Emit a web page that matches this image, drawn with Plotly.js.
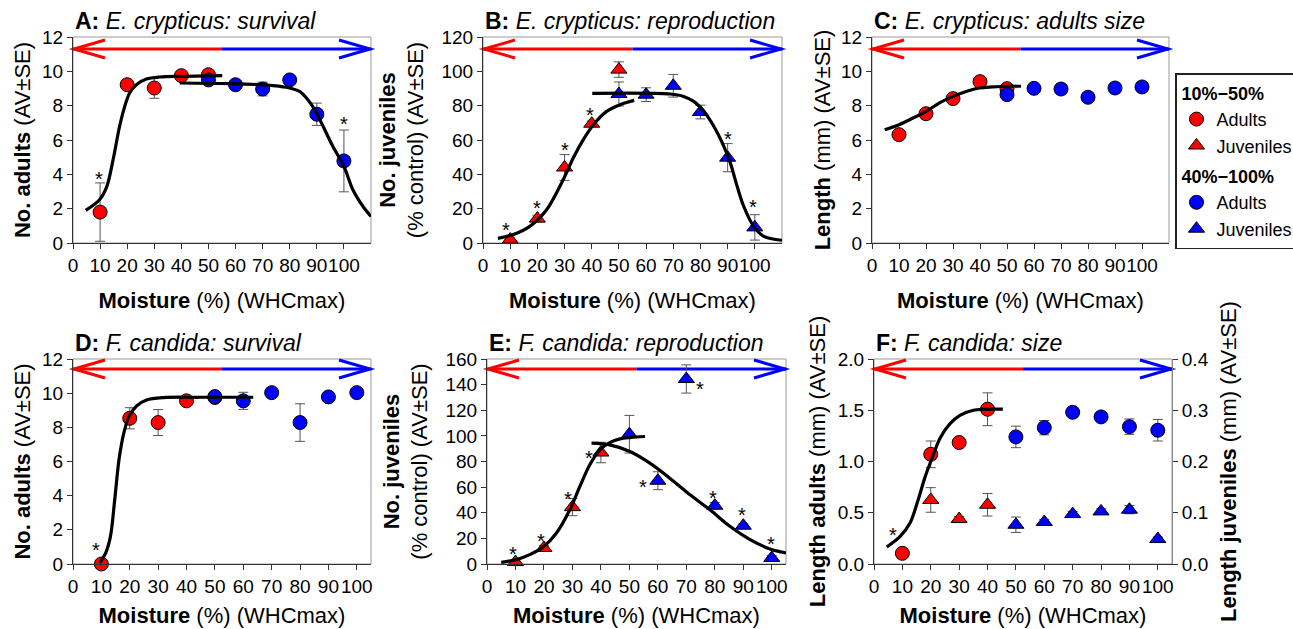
<!DOCTYPE html>
<html><head><meta charset="utf-8">
<script src="https://cdn.plot.ly/plotly-3.0.1.min.js"></script>
<style>html,body{margin:0;padding:0;background:#fff;}#chart{width:1293px;height:629px;}</style>
</head><body><div id="chart"></div>
<script>
// ---------- shared ----------
const xTickVals = [0,10,20,30,40,50,60,70,80,90,100];
const xTickText = ['0','10','20','30','40','50','60','70','80','90','100'];
const panelTitles = [
  '<b>A:</b> <i>E. crypticus: survival</i>',
  '<b>B:</b> <i>E. crypticus: reproduction</i>',
  '<b>C:</b> <i>E. crypticus: adults size</i>',
  '<b>D:</b> <i>F. candida: survival</i>',
  '<b>E:</b> <i>F. candida: reproduction</i>',
  '<b>F:</b> <i>F. candida: size</i>'
];
const xTitle = '<b>Moisture</b> (%) (WHCmax)';
const yTitles = [
  '<b>No. adults</b> (AV±SE)',
  '<b>No. juveniles</b><br>(% control) (AV±SE)',
  '<b>Length</b> (mm) (AV±SE)',
  '<b>No. adults</b> (AV±SE)',
  '<b>No. juveniles</b><br>(% control) (AV±SE)',
  '<b>Length adults</b> (mm) (AV±SE)',
  '<b>Length juveniles</b> (mm) (AV±SE)'
];
const legendGroupLow = '10%−50%';
const legendGroupHigh = '40%−100%';

// ---------- A: E. crypticus survival ----------
const aRedX = [10,20,30,40,50];
const aRedY = [1.8,9.22,9.03,9.75,9.8];
const aRedSE = [1.7,0.2,0.6,0.2,0.2];
const aBlueX = [50,60,70,80,90,100];
const aBlueY = [9.5,9.22,8.97,9.5,7.5,4.78];
const aBlueSE = [0.2,0.2,0.4,0.2,0.65,1.8];
const aRedFitX = [4.7,9.8,12.5,14.8,17.2,19.1,20.9,23.4,27.1,32,40.6,55.1];
const aRedFitY = [1.9,2.52,3.3,4.85,6.8,7.96,8.74,9.22,9.55,9.67,9.71,9.75];
const aBlueFitX = [39.4,59,71.3,78.7,83.6,86.7,89.2,92.3,95.9,100,103.3,107,110];
const aBlueFitY = [9.32,9.28,9.2,9.07,8.83,8.35,7.77,6.8,5.63,4.47,3.1,2.14,1.55];
const aStarX = [9.5,100];
const aStarY = [3.98,7.18];

// ---------- B: E. crypticus reproduction ----------
const bRedX = [10,20,30,40,50];
const bRedY = [2,14.2,44,69.5,101];
const bRedSE = [2.5,2,7.5,1.5,4.5];
const bBlueX = [50,60,70,80,90,100];
const bBlueY = [86.8,86.4,91.6,76.3,49.7,9.1];
const bBlueSE = [7,4,6.6,4,8.2,7.4];
const bRedFitX = [5.5,11.1,17.2,23.4,29.5,33.2,36.9,40.6,45.5,50.4,55.6];
const bRedFitY = [2.7,4.9,9.7,19.4,36.9,49.5,60.2,68.9,76.7,80.6,83.1];
const bBlueFitX = [40.2,68.9,73.8,77.5,81.2,84.9,88.6,91,93.5,95.9,99.6,103.3,110];
const bBlueFitY = [87.2,86.8,85.4,82.5,76.7,68,56.3,46.6,33,21.4,9.7,3.9,1.6];
const bStarX = [8.4,19.7,30,39.4,90.2,99.4];
const bStarY = [9.7,22.9,56.3,76.7,63.1,23.3];

// ---------- C: E. crypticus adults size ----------
const cRedX = [10,20,30,40,50];
const cRedY = [6.31,7.53,8.41,9.4,8.99];
const cRedSE = [0.15,0.15,0.15,0.15,0.15];
const cBlueX = [50,60,70,80,90,100];
const cBlueY = [8.64,9.01,8.97,8.49,9.03,9.09];
const cBlueSE = [0.15,0.15,0.15,0.15,0.15,0.15];
const cRedFitX = [4.7,10,15.2,20.1,25,30,34.9,39.8,44.8,49.7,55.2];
const cRedFitY = [6.6,6.89,7.28,7.67,8.16,8.54,8.83,9.03,9.09,9.13,9.13];

// ---------- D: F. candida survival ----------
const dRedX = [10,20,30,40,50];
const dRedY = [0,8.53,8.28,9.55,9.75];
const dRedSE = [0,0.62,0.76,0.2,0.2];
const dBlueX = [50,60,70,80,90,100];
const dBlueY = [9.8,9.55,10.03,8.28,9.78,10.03];
const dBlueSE = [0.15,0.5,0.1,1.1,0.15,0.1];
const dRedFitX = [9.4,11.5,13.2,14.7,16.2,17.9,19.8,22.4,25.9,31.8,44.7,63.5];
const dRedFitY = [0.06,0.64,1.62,3.76,6.1,7.66,8.67,9.25,9.6,9.74,9.76,9.76];
const dStarX = [8.2];
const dStarY = [1.03];

// ---------- E: F. candida reproduction ----------
const eRedX = [10,20,30,40];
const eRedY = [1.5,12.5,44.4,87];
const eRedSE = [1,2,6.7,8];
const eBlueX = [50,60,70,80,90,100];
const eBlueY = [101.3,65,144.4,45.5,29.9,4.7];
const eBlueSE = [14.7,7,11,2.5,1.5,2];
const eRedFitX = [5,10.3,15,19.7,24.4,29.1,32.6,36.1,39.6,43.1,46.7,50.2,55.5];
const eRedFitY = [1.3,3.4,7.3,13.2,24.2,42.3,60.5,77.4,89.1,94.8,97.7,98.7,99.5];
const eBlueFitX = [36.7,43.1,50.2,57.2,64.2,71.3,78.3,85.3,92.4,99.4,105];
const eBlueFitY = [94.3,93,87.8,78.7,67,54,42.3,29.4,19,11.7,8.6];
const eStarX = [9.1,19.1,28.5,35.9,54.9,74.8,79.5,89.6,99.6];
const eStarY = [11.2,20.8,54,86,63.6,139.7,54.8,41,19];

// ---------- F: F. candida size ----------
const fRedAdX = [10,20,30,40];
const fRedAdY = [0.104,1.07,1.185,1.51];
const fRedAdSE = [0.02,0.13,0.03,0.16];
const fBlueAdX = [50,60,70,80,90,100];
const fBlueAdY = [1.24,1.33,1.48,1.435,1.34,1.305];
const fBlueAdSE = [0.105,0.07,0.03,0.03,0.075,0.105];
const fRedJuvX = [20,30,40];
const fRedJuvY = [0.125,0.0877,0.1156];
const fRedJuvSE = [0.024,0.005,0.022];
const fBlueJuvX = [50,60,70,80,90,100];
const fBlueJuvY = [0.0766,0.082,0.0974,0.1026,0.106,0.0487];
const fBlueJuvSE = [0.015,0.005,0.005,0.005,0.008,0.004];
const fRedFitX = [4.5,9.2,12.7,15.6,18,20,23.3,26.8,30.3,35,45.4];
const fRedFitY = [0.166,0.27,0.40,0.63,0.85,1.0,1.23,1.37,1.45,1.50,1.51];
const fStarX = [6.8];
const fStarY = [0.318];

// ---------- styling ----------
const FONT = 'Liberation Sans, Arial, Helvetica, sans-serif';
const RED = '#ff0000', BLUE = '#0000ff';
const W = 1293, H = 629;
function dom(a, b, size) { return [a / size, b / size]; }
function ydom(top, bottom) { return [1 - bottom / H, 1 - top / H]; }

const panels = [
  {x:[73,371],  y:[37,243],  xr:[0,110], yr:[0,12],  dt:2,   xs:17, ys:5},
  {x:[483,782], y:[37,243],  xr:[0,110], yr:[0,120], dt:20,  xs:17, ys:11},
  {x:[872,1169],y:[37,243],  xr:[0,110], yr:[0,12],  dt:2,   xs:17, ys:4},
  {x:[73,371],  y:[359,564], xr:[0,105], yr:[0,12],  dt:2,   xs:11, ys:5},
  {x:[487,786], y:[359,564], xr:[0,105], yr:[0,160], dt:20,  xs:11, ys:11},
  {x:[874,1172],y:[359,564], xr:[0,105], yr:[0,2],   dt:0.5, xs:11, ys:6}
];

function errObj(se) {
  return {type:'data', array: se, visible:true, color:'#555', thickness:1, width:5};
}
function pts(x, y, se, color, sym, n, extra) {
  const sfx = n === 1 ? '' : String(n);
  return Object.assign({
    type:'scatter', mode:'markers', x, y, xaxis:'x'+sfx, yaxis:'y'+sfx,
    error_y: errObj(se), cliponaxis:false, showlegend:false, hoverinfo:'skip',
    marker:{color, symbol:sym, size:14, line:{color:'#000', width:1}}
  }, extra || {});
}
function fit(x, y, n) {
  const sfx = n === 1 ? '' : String(n);
  return {type:'scatter', mode:'lines', x, y, xaxis:'x'+sfx, yaxis:'y'+sfx,
    line:{color:'#000', width:3.2, shape:'spline', smoothing:0.9}, showlegend:false, hoverinfo:'skip', cliponaxis:false};
}

const data = [
  pts(aRedX, aRedY, aRedSE, RED, 'circle', 1, {showlegend:true, name:'Adults', legendgroup:'low', legendrank:1,
      legendgrouptitle:{text:'<b>'+legendGroupLow+'</b>', font:{size:18}}}),
  pts(aBlueX, aBlueY, aBlueSE, BLUE, 'circle', 1, {showlegend:true, name:'Adults', legendgroup:'high', legendrank:3,
      legendgrouptitle:{text:'<b>'+legendGroupHigh+'</b>', font:{size:18}}}),
  fit(aRedFitX, aRedFitY, 1), fit(aBlueFitX, aBlueFitY, 1),
  pts(bRedX, bRedY, bRedSE, RED, 'triangle-up', 2, {showlegend:true, name:'Juveniles', legendgroup:'low', legendrank:2}),
  pts(bBlueX, bBlueY, bBlueSE, BLUE, 'triangle-up', 2, {showlegend:true, name:'Juveniles', legendgroup:'high', legendrank:4}),
  fit(bRedFitX, bRedFitY, 2), fit(bBlueFitX, bBlueFitY, 2),
  pts(cRedX, cRedY, cRedSE, RED, 'circle', 3),
  pts(cBlueX, cBlueY, cBlueSE, BLUE, 'circle', 3),
  fit(cRedFitX, cRedFitY, 3),
  pts(dRedX, dRedY, dRedSE, RED, 'circle', 4),
  pts(dBlueX, dBlueY, dBlueSE, BLUE, 'circle', 4),
  fit(dRedFitX, dRedFitY, 4),
  pts(eRedX, eRedY, eRedSE, RED, 'triangle-up', 5),
  pts(eBlueX, eBlueY, eBlueSE, BLUE, 'triangle-up', 5),
  fit(eRedFitX, eRedFitY, 5), fit(eBlueFitX, eBlueFitY, 5),
  pts(fRedAdX, fRedAdY, fRedAdSE, RED, 'circle', 6),
  pts(fBlueAdX, fBlueAdY, fBlueAdSE, BLUE, 'circle', 6),
  pts(fRedJuvX, fRedJuvY, fRedJuvSE, RED, 'triangle-up', 6, {yaxis:'y7'}),
  pts(fBlueJuvX, fBlueJuvY, fBlueJuvSE, BLUE, 'triangle-up', 6, {yaxis:'y7'}),
  fit(fRedFitX, fRedFitY, 6)
];

const layout = {
  width: W, height: H,
  margin:{l:0, r:0, t:0, b:0, autoexpand:false},
  paper_bgcolor:'#fff', plot_bgcolor:'#fff',
  font:{family: FONT, color:'#000', size:18},
  hovermode:false, showlegend:true,
  legend:{x:1175/W, y:1-73/H, xanchor:'left', yanchor:'top', bgcolor:'#fff',
    bordercolor:'#222', borderwidth:1.5, font:{size:18}, tracegroupgap:4,
    traceorder:'grouped', itemclick:false, itemdoubleclick:false},
  shapes:[], annotations:[]
};

panels.forEach((p, i) => {
  const n = i + 1, sfx = n === 1 ? '' : String(n);
  layout['xaxis'+sfx] = {
    domain: dom(p.x[0], p.x[1], W), range: p.xr, anchor: 'y'+sfx,
    tickmode:'array', tickvals: xTickVals, ticktext: xTickText, tickangle:0,
    ticks:'outside', ticklen:5, tickcolor:'#333', showline:true, linecolor:'#333', linewidth:1,
    showgrid:false, zeroline:false, tickfont:{size:19}, fixedrange:true,
    title:{text: xTitle, font:{size:22}, standoff: p.xs}
  };
  layout['yaxis'+sfx] = {
    domain: ydom(p.y[0], p.y[1]), range: p.yr, anchor: 'x'+sfx, dtick: p.dt, tick0:0,
    tickformat: n === 6 ? '.1f' : '',
    ticks:'outside', ticklen:5, tickcolor:'#333', showline:true, linecolor:'#333', linewidth:1,
    showgrid:false, zeroline:false, tickfont:{size:19}, fixedrange:true,
    title:{text: yTitles[i], font:{size:22}, standoff: p.ys}
  };
  layout.shapes.push({type:'rect', xref:'x'+sfx+' domain', yref:'y'+sfx+' domain', x0:0, x1:1, y0:0, y1:1,
    line:{color:'#999', width:1}, layer:'below'});
  const ay = i < 3 ? 1 - 12/206 : 1 - 10/205;
  layout.shapes.push({type:'line', xref:'x'+sfx+' domain', yref:'y'+sfx+' domain', x0:0, x1:0.5, y0:ay, y1:ay,
    line:{color:RED, width:3}, layer:'below'});
  layout.shapes.push({type:'line', xref:'x'+sfx+' domain', yref:'y'+sfx+' domain', x0:0.5, x1:1, y0:ay, y1:ay,
    line:{color:BLUE, width:3}, layer:'below'});
  layout.shapes.push({type:'path', xref:'x'+sfx+' domain', yref:'y'+sfx+' domain', xsizemode:'pixel', ysizemode:'pixel',
    xanchor:0, yanchor:ay, path:'M 32 9 L 1 0 L 32 -9', line:{color:RED, width:3}, layer:'below'});
  layout.shapes.push({type:'path', xref:'x'+sfx+' domain', yref:'y'+sfx+' domain', xsizemode:'pixel', ysizemode:'pixel',
    xanchor:1, yanchor:ay, path:'M -32 9 L -1 0 L -32 -9', line:{color:BLUE, width:3}, layer:'below'});
  layout.annotations.push({xref:'x'+sfx+' domain', yref:'y'+sfx+' domain', x:0, y:1, xanchor:'left', yanchor:'bottom',
    yshift:1, showarrow:false, text: panelTitles[i], font:{size:23}});
});
layout.yaxis7 = {
  overlaying:'y6', side:'right', anchor:'x6', range:[0,0.4], dtick:0.1, tick0:0, tickformat:'.1f',
  ticks:'outside', ticklen:5, tickcolor:'#333', showline:true, linecolor:'#888', linewidth:1,
  showgrid:false, zeroline:false, tickfont:{size:19}, fixedrange:true,
  title:{text: yTitles[6], font:{size:22}, standoff:12}
};

function stars(xs, ys, n) {
  const sfx = n === 1 ? '' : String(n);
  xs.forEach((x, k) => layout.annotations.push({xref:'x'+sfx, yref:'y'+sfx, x, y: ys[k], text:'*',
    showarrow:false, font:{size:20, color:'#000'}, yshift:-4}));
}
stars(aStarX, aStarY, 1);
stars(bStarX, bStarY, 2);
stars(dStarX, dStarY, 4);
stars(eStarX, eStarY, 5);
stars(fStarX, fStarY, 6);

Plotly.newPlot('chart', data, layout, {displayModeBar:false, staticPlot:true});
</script></body></html>
